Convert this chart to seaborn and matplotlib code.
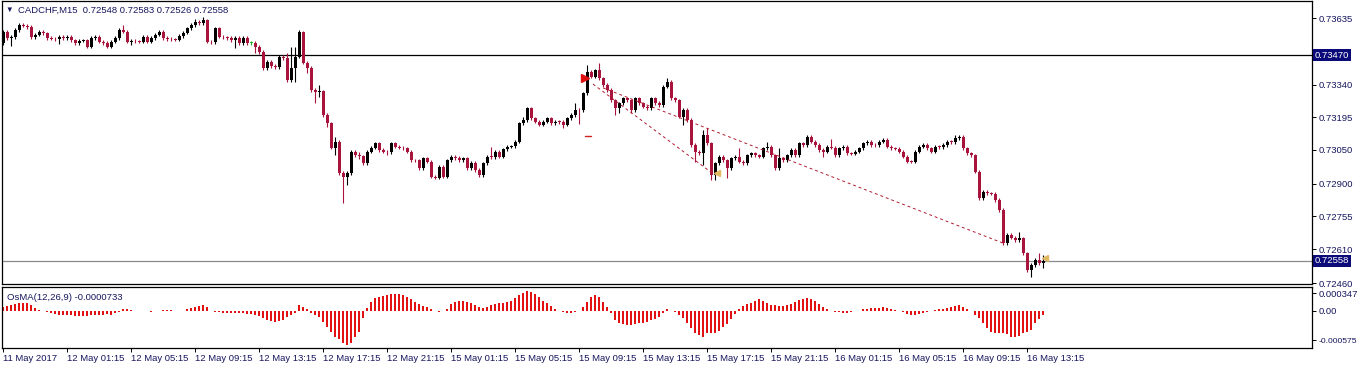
import numpy as np
import pandas as pd
import seaborn as sns
import matplotlib.pyplot as plt

sns.set_style("white")
plt.rcParams['font.family'] = ['Liberation Sans', 'DejaVu Sans']

#%% DATA (CADCHF M15)
SYMBOL = 'CADCHF,M15'
LAST_OHLC = ['0.72548', '0.72583', '0.72526', '0.72558']
FIRST_OPEN = 0.73524

closes = [
    0.73573, 0.73546, 0.73551, 0.73582, 0.73604, 0.73601, 0.73595, 0.73551, 0.73560, 0.73573,
    0.73568, 0.73546, 0.73543, 0.73540, 0.73551, 0.73546, 0.73551, 0.73537, 0.73524, 0.73534,
    0.73537, 0.73508, 0.73546, 0.73552, 0.73530, 0.73524, 0.73508, 0.73529, 0.73546, 0.73582,
    0.73574, 0.73530, 0.73535, 0.73532, 0.73529, 0.73552, 0.73530, 0.73546, 0.73560, 0.73574,
    0.73546, 0.73542, 0.73540, 0.73538, 0.73555, 0.73570, 0.73589, 0.73604, 0.73619, 0.73612,
    0.73626, 0.73530, 0.73528, 0.73589, 0.73552, 0.73550, 0.73546, 0.73537, 0.73546, 0.73524,
    0.73546, 0.73524, 0.73524, 0.73508, 0.73484, 0.73413, 0.73440, 0.73422, 0.73418, 0.73463,
    0.73458, 0.73360, 0.73413, 0.73463, 0.73574, 0.73436, 0.73413, 0.73316, 0.73308, 0.73310,
    0.73205, 0.73169, 0.73059, 0.73086, 0.72948, 0.72931, 0.72948, 0.73042, 0.73027, 0.73022,
    0.72992, 0.73042, 0.73060, 0.73079, 0.73050, 0.73042, 0.73040, 0.73079, 0.73064, 0.73060,
    0.73057, 0.73042, 0.73005, 0.73004, 0.72970, 0.73013, 0.72998, 0.72931, 0.72926, 0.72976,
    0.72931, 0.73005, 0.73020, 0.73014, 0.73005, 0.73013, 0.72970, 0.72992, 0.72961, 0.72939,
    0.72991, 0.73020, 0.73019, 0.73042, 0.73020, 0.73053, 0.73064, 0.73067, 0.73086, 0.73169,
    0.73183, 0.73235, 0.73190, 0.73175, 0.73161, 0.73175, 0.73190, 0.73168, 0.73175, 0.73174,
    0.73161, 0.73190, 0.73205, 0.73227, 0.73225, 0.73301, 0.73397, 0.73375, 0.73404, 0.73368,
    0.73338, 0.73316, 0.73271, 0.73235, 0.73257, 0.73279, 0.73271, 0.73227, 0.73279, 0.73257,
    0.73242, 0.73235, 0.73279, 0.73258, 0.73249, 0.73330, 0.73353, 0.73279, 0.73271, 0.73197,
    0.73227, 0.73183, 0.73072, 0.73042, 0.73035, 0.73116, 0.73079, 0.72939, 0.72991, 0.73020,
    0.73005, 0.72969, 0.73013, 0.73020, 0.72998, 0.72991, 0.73027, 0.73035, 0.73027, 0.73020,
    0.73057, 0.73063, 0.73027, 0.72969, 0.73013, 0.73005, 0.73027, 0.73050, 0.73027, 0.73079,
    0.73072, 0.73109, 0.73086, 0.73072, 0.73050, 0.73042, 0.73064, 0.73059, 0.73027, 0.73057,
    0.73064, 0.73035, 0.73034, 0.73042, 0.73057, 0.73079, 0.73086, 0.73072, 0.73071, 0.73086,
    0.73094, 0.73064, 0.73057, 0.73056, 0.73042, 0.73020, 0.72998, 0.72997, 0.73042, 0.73064,
    0.73072, 0.73057, 0.73042, 0.73064, 0.73063, 0.73072, 0.73086, 0.73085, 0.73102, 0.73109,
    0.73057, 0.73035, 0.73027, 0.72954, 0.72836, 0.72865, 0.72858, 0.72856, 0.72828, 0.72784,
    0.72636, 0.72673, 0.72660, 0.72651, 0.72658, 0.72592, 0.72518, 0.72540, 0.72562, 0.72548,
    0.72558]

# wick lengths above / below the body, in points (0.00001)
wick_up = [
    10, 7, 7, 7, 7, 7, 9, 7, 7, 7,
    7, 7, 7, 7, 10, 7, 7, 7, 7, 7,
    7, 7, 7, 7, 7, 7, 7, 7, 7, 8,
    22, 7, 7, 7, 7, 7, 7, 7, 7, 7,
    7, 7, 7, 7, 7, 7, 7, 7, 10, 7,
    12, 4, 7, 7, 7, 7, 7, 7, 7, 7,
    7, 7, 7, 7, 7, 7, 7, 7, 7, 7,
    7, 22, 95, 44, 8, 5, 7, 7, 7, 30,
    7, 7, 7, 22, 7, 7, 7, 7, 7, 15,
    7, 7, 7, 7, 7, 7, 7, 7, 7, 7,
    7, 7, 7, 7, 7, 7, 7, 7, 7, 7,
    7, 7, 7, 7, 7, 7, 7, 7, 7, 7,
    7, 7, 44, 7, 7, 7, 7, 7, 7, 7,
    15, 7, 7, 7, 7, 7, 7, 7, 7, 7,
    7, 7, 7, 30, 7, 7, 30, 7, 7, 30,
    7, 7, 7, 7, 7, 7, 7, 7, 7, 7,
    7, 7, 7, 7, 7, 7, 15, 7, 7, 7,
    7, 7, 7, 7, 7, 22, 30, 7, 7, 7,
    7, 7, 7, 7, 37, 7, 7, 7, 7, 7,
    7, 23, 7, 7, 44, 7, 7, 7, 7, 7,
    7, 7, 7, 7, 7, 7, 7, 35, 7, 7,
    7, 7, 7, 7, 7, 7, 7, 7, 7, 7,
    7, 7, 7, 7, 7, 7, 7, 7, 7, 7,
    7, 7, 7, 7, 7, 7, 7, 7, 15, 8,
    7, 7, 7, 7, 7, 7, 7, 7, 7, 7,
    7, 7, 7, 7, 30, 7, 7, 7, 7, 30,
    25]
wick_dn = [
    7, 7, 35, 7, 7, 7, 7, 7, 7, 7,
    7, 7, 7, 7, 20, 7, 7, 7, 7, 7,
    7, 7, 7, 7, 7, 7, 7, 7, 7, 7,
    7, 7, 15, 7, 7, 7, 7, 7, 7, 7,
    7, 7, 7, 7, 7, 7, 7, 7, 7, 7,
    7, 7, 7, 7, 7, 7, 7, 7, 35, 7,
    7, 7, 7, 27, 7, 7, 7, 7, 7, 7,
    7, 7, 7, 60, 7, 7, 22, 7, 50, 25,
    7, 18, 7, 30, 7, 116, 38, 7, 7, 10,
    7, 7, 7, 7, 7, 7, 13, 7, 7, 7,
    7, 7, 7, 7, 7, 7, 7, 7, 7, 7,
    7, 7, 7, 7, 7, 7, 7, 7, 7, 7,
    7, 7, 7, 7, 7, 7, 7, 7, 7, 7,
    7, 7, 7, 7, 7, 7, 7, 7, 7, 7,
    15, 7, 7, 7, 60, 7, 7, 7, 7, 7,
    7, 7, 7, 30, 22, 7, 7, 14, 7, 7,
    7, 7, 7, 7, 7, 7, 7, 7, 7, 7,
    37, 7, 7, 44, 7, 52, 7, 22, 22, 7,
    7, 44, 7, 7, 7, 7, 7, 7, 7, 7,
    7, 7, 7, 7, 7, 7, 7, 7, 7, 7,
    7, 7, 7, 7, 7, 22, 7, 7, 7, 7,
    7, 7, 7, 7, 7, 7, 7, 7, 7, 7,
    7, 7, 7, 7, 7, 7, 7, 7, 7, 7,
    7, 7, 7, 7, 7, 7, 7, 7, 7, 7,
    7, 7, 7, 7, 7, 8, 7, 7, 7, 7,
    7, 7, 7, 7, 7, 7, 7, 30, 7, 7,
    22]

# OsMA(12,26,9) histogram, in millionths
osma_e6 = [
    85, 104, 124, 137, 150, 163, 150, 111, 59, 20,
    7, -26, -46, -65, -72, -78, -78, -85, -91, -98,
    -98, -91, -85, -78, -72, -72, -65, -72, -46, -13,
    33, 39, 26, 7, -2, -7, -7, -13, -7, 7,
    20, 20, 13, 2, -7, 1, 33, 59, 85, 104,
    117, 72, 7, -20, -26, -33, -39, -46, -46, -46,
    -46, -52, -59, -72, -98, -143, -176, -195, -208, -202,
    -176, -124, -78, -33, 111, 85, 46, -46, -78, -124,
    -208, -306, -403, -501, -553, -631, -663, -618, -514, -403,
    -143, 52, 182, 247, 280, 299, 312, 325, 332, 325,
    312, 280, 228, 176, 137, 98, 72, 46, 7, -13,
    7, 33, 137, 182, 202, 202, 182, 150, 117, 72,
    59, 85, 111, 137, 150, 163, 176, 202, 247, 312,
    358, 390, 377, 332, 267, 202, 150, 98, 46, 7,
    -26, -46, -39, -26, 7, 72, 182, 280, 306, 267,
    182, 85, -46, -176, -228, -254, -273, -273, -254, -241,
    -228, -208, -176, -163, -124, -46, 33, 2, -26, -78,
    -143, -241, -338, -423, -468, -501, -436, -423, -436, -384,
    -319, -254, -163, -59, 33, 98, 137, 163, 202, 234,
    202, 163, 124, 111, 98, 98, 111, 137, 176, 215,
    234, 247, 234, 202, 137, 85, 46, 7, -13, -26,
    -33, -33, -20, -7, 7, 33, 46, 52, 59, 65,
    72, 59, 46, 26, -2, -26, -59, -85, -72, -52,
    -33, -20, -7, 20, 33, 46, 59, 85, 98, 117,
    85, 46, 7, -78, -143, -241, -338, -403, -423, -423,
    -423, -449, -501, -514, -488, -436, -403, -371, -241, -163,
    -73]

# levels, trend lines and arrows (bar index, price)
LEVEL_LINE = 0.73470
BID = 0.72558
trend_a_x = [147.5, 177.25]
trend_a_y = [0.73342, 0.72948]
trend_b_x = [150, 250]
trend_b_y = [0.73325, 0.72637]

price_ticks = [0.73635, 0.73340, 0.73195, 0.73050, 0.72900, 0.72755, 0.72610, 0.72460]
osma_ticks = [0.000347, 0.0, -0.000575]
osma_tick_labels = ['0.000347', '0.00', '-0.000575']

time_labels = ['11 May 2017', '12 May 01:15', '12 May 05:15', '12 May 09:15', '12 May 13:15',
               '12 May 17:15', '12 May 21:15', '15 May 01:15', '15 May 05:15', '15 May 09:15',
               '15 May 13:15', '15 May 17:15', '15 May 21:15', '16 May 01:15', '16 May 05:15',
               '16 May 09:15', '16 May 13:15']

#%% BUILD OHLC
close = np.array(closes)
opn = np.concatenate([[FIRST_OPEN], close[:-1]])
high = np.maximum(opn, close) + np.array(wick_up) * 1e-5
low = np.minimum(opn, close) - np.array(wick_dn) * 1e-5
idx = np.arange(len(close))
df = pd.DataFrame({'bar': idx, 'osma': np.array(osma_e6) * 1e-6})

BULL = '#000000'
BEAR = '#a8143c'
DOJI = '#2bb02b'
NAVY = '#16165e'
colors = np.where(close > opn, BULL, np.where(close < opn, BEAR, DOJI))

#%% FIGURE
W, H = 1358, 369
fig = plt.figure(figsize=(W / 100, H / 100), dpi=100)
ax = fig.add_axes([2 / W, 1 - 284 / H, 1310 / W, 283 / H])
ax2 = fig.add_axes([2 / W, 1 - 348 / H, 1310 / W, 61 / H])

XLIM = (-0.25, 327.25)

# candles
ax.vlines(idx, low, high, colors=colors, linewidth=0.8, zorder=3)
body_h = np.maximum(np.abs(close - opn), 0.000025)
ax.bar(idx, body_h, bottom=np.minimum(opn, close), width=0.75, color=colors,
       linewidth=0, zorder=4)

# level and bid lines
ax.axhline(LEVEL_LINE, color='#000000', linewidth=0.9, zorder=2)
ax.axhline(BID, color='#8a8a8a', linewidth=0.9, zorder=2)

# dashed trend lines and markers
ax.plot(trend_a_x, trend_a_y, color='#b01c30', linewidth=0.7, dashes=(3, 3), zorder=5)
ax.plot(trend_b_x, trend_b_y, color='#b01c30', linewidth=0.7, dashes=(3, 3), zorder=5)
ax.plot([145.5], [0.73369], marker='>', color='#e01010', markersize=5.5, zorder=6)
ax.plot([145.5, 147.0], [0.73112, 0.73112], color='#d02020', linewidth=1, zorder=5)
ax.plot([178.5, 260.6], [0.72948, 0.72571], linestyle='none', marker='<',
        color='#e0b860', markersize=4.5, zorder=6)

ax.set_xlim(*XLIM)
ax.set_ylim(0.724556, 0.737104)
ax.yaxis.tick_right()
ax.set_yticks(price_ticks)
ax.set_yticklabels([f'{t:.5f}' for t in price_ticks])
ax.tick_params(axis='y', direction='out', length=3, width=0.7, pad=2,
               labelsize=6.8, labelcolor=NAVY, color='#000000', right=True)
ax.tick_params(axis='x', bottom=False, labelbottom=False)

# price boxes on the right scale
for lvl in [LEVEL_LINE, BID]:
    ax.text(1.0 + 3 / 1310, lvl, f'{lvl:.5f}', transform=ax.get_yaxis_transform(),
            ha='left', va='center', fontsize=6.8, color='white', zorder=10,
            bbox=dict(boxstyle='square,pad=0.18', fc='#0a0a78', ec='none'))

fig.text(5 / W, 1 - 10 / H, '\u25bc', fontsize=5.5, color=NAVY, va='center', ha='left')
fig.text(18 / W, 1 - 10 / H, SYMBOL + '  ' + ' '.join(LAST_OHLC), fontsize=6.8,
         color=NAVY, va='center', ha='left')

# OsMA histogram
sns.barplot(data=df, x='bar', y='osma', native_scale=True, color='#e31212',
            saturation=1, width=0.7, errorbar=None, linewidth=0, ax=ax2)
ax2.set_xlim(*XLIM)
ax2.set_ylim(-0.000725, 0.00047)
ax2.yaxis.tick_right()
ax2.set_yticks(osma_ticks)
ax2.set_yticklabels(osma_tick_labels)
ax2.tick_params(axis='y', direction='out', length=3, width=0.7, pad=1.5,
                labelsize=6.8, labelcolor=NAVY, color='#000000', right=True, left=False)
# the lowest label sits at the figure edge; shrink it a little so it stays whole
ax2.get_yticklabels()[-1].set_fontsize(6.1)
ax2.set_xticks(np.arange(len(time_labels)) * 16)
ax2.set_xticklabels(time_labels, ha='left')
ax2.tick_params(axis='x', direction='out', length=3, width=0.7, pad=1.5,
                labelsize=6.8, labelcolor=NAVY, color='#000000', bottom=True)
ax2.set_xlabel('')
ax2.set_ylabel('')
ax2.text(5 / 1310, 1 - 10 / 61, 'OsMA(12,26,9) -0.0000733', transform=ax2.transAxes,
         fontsize=6.8, color=NAVY, va='center', ha='left')

for a in (ax, ax2):
    for s in a.spines.values():
        s.set_color('#000000')
        s.set_linewidth(0.9)
        s.set_visible(True)
    a.set_facecolor('white')

fig.savefig('out.png', dpi=100)
